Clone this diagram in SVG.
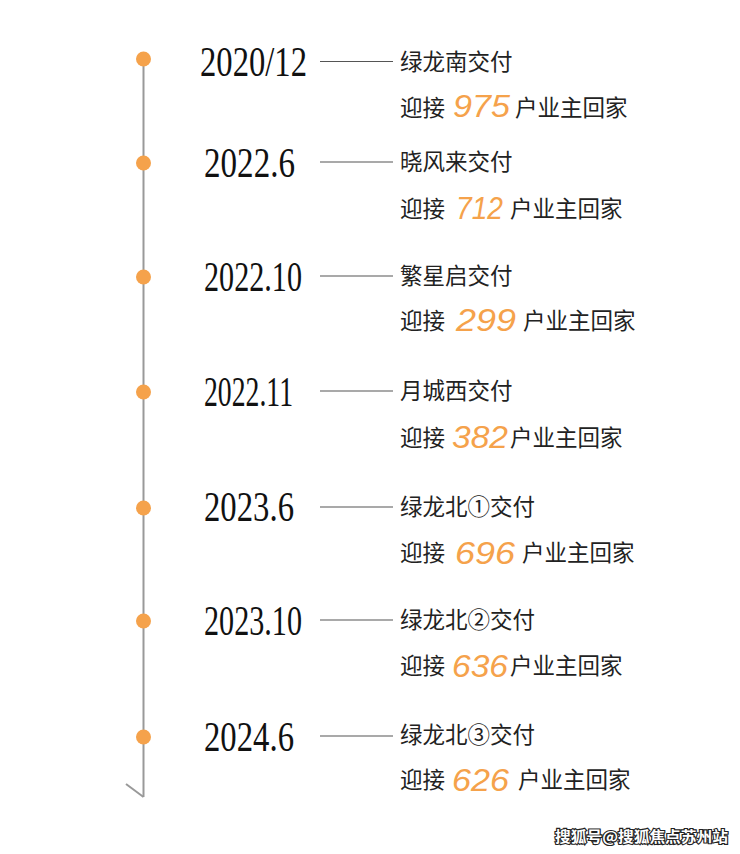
<svg xmlns="http://www.w3.org/2000/svg" width="740" height="854" viewBox="0 0 740 854">
<style>
.axis{stroke:#999;stroke-width:2;fill:none}
.dot{fill:#F5A24B}
.conn{stroke:#555;stroke-width:1.2}
.date{font-family:"Liberation Serif","DejaVu Serif",serif;font-size:43px;fill:#111}
.cn{font-family:"Noto Sans CJK SC","Noto Sans",sans-serif;font-size:22.5px;fill:#222}
.num{font-family:"Liberation Sans",Arial,sans-serif;font-style:italic;font-size:32px;fill:#F5A24B}
.wm{font-family:"Noto Sans CJK SC",sans-serif;font-weight:bold;font-size:14.5px;fill:#fff;stroke:#222;stroke-width:2.2;paint-order:stroke}
</style>
<rect width="740" height="854" fill="#fff"/>
<g id="connectors">
<line class="axis" x1="143.5" y1="59" x2="143.5" y2="797"/>
<line class="axis" x1="126" y1="784" x2="143.5" y2="797"/>
<line class="conn" x1="320" y1="61.5" x2="393" y2="61.5"/>
<line class="conn" x1="320" y1="162" x2="393" y2="162"/>
<line class="conn" x1="320" y1="276" x2="393" y2="276"/>
<line class="conn" x1="320" y1="391" x2="393" y2="391"/>
<line class="conn" x1="320" y1="507" x2="393" y2="507"/>
<line class="conn" x1="320" y1="620" x2="393" y2="620"/>
<line class="conn" x1="320" y1="736" x2="393" y2="736"/>
</g>
<g id="n1">
<circle class="dot" cx="143.5" cy="59" r="7.5"/>
<text class="date" x="200" y="76" textLength="107" lengthAdjust="spacingAndGlyphs">2020/12</text>
<text class="cn" x="400" y="70">绿龙南交付</text>
<text class="cn" x="400" y="116">迎接</text>
<text class="num" x="453" y="117" textLength="57" lengthAdjust="spacingAndGlyphs">975</text>
<text class="cn" x="515" y="116">户业主回家</text>
</g>
<g id="n2">
<circle class="dot" cx="143.5" cy="163" r="7.5"/>
<text class="date" x="204" y="177" textLength="91" lengthAdjust="spacingAndGlyphs">2022.6</text>
<text class="cn" x="400" y="170">晓风来交付</text>
<text class="cn" x="400" y="217">迎接</text>
<text class="num" x="456" y="219" textLength="47" lengthAdjust="spacingAndGlyphs">712</text>
<text class="cn" x="510" y="217">户业主回家</text>
</g>
<g id="n3">
<circle class="dot" cx="143.5" cy="277" r="7.5"/>
<text class="date" x="204" y="291" textLength="98" lengthAdjust="spacingAndGlyphs">2022.10</text>
<text class="cn" x="400" y="284">繁星启交付</text>
<text class="cn" x="400" y="329">迎接</text>
<text class="num" x="456" y="331" textLength="60" lengthAdjust="spacingAndGlyphs">299</text>
<text class="cn" x="523" y="329">户业主回家</text>
</g>
<g id="n4">
<circle class="dot" cx="143.5" cy="392" r="7.5"/>
<text class="date" x="204" y="406" textLength="89" lengthAdjust="spacingAndGlyphs">2022.11</text>
<text class="cn" x="400" y="399">月城西交付</text>
<text class="cn" x="400" y="446">迎接</text>
<text class="num" x="452" y="448" textLength="56" lengthAdjust="spacingAndGlyphs">382</text>
<text class="cn" x="510" y="446">户业主回家</text>
</g>
<g id="n5">
<circle class="dot" cx="143.5" cy="508" r="7.5"/>
<text class="date" x="204" y="521" textLength="90" lengthAdjust="spacingAndGlyphs">2023.6</text>
<text class="cn" x="400" y="515">绿龙北①交付</text>
<text class="cn" x="400" y="561">迎接</text>
<text class="num" x="455" y="564" textLength="60" lengthAdjust="spacingAndGlyphs">696</text>
<text class="cn" x="522" y="561">户业主回家</text>
</g>
<g id="n6">
<circle class="dot" cx="143.5" cy="621" r="7.5"/>
<text class="date" x="204" y="635" textLength="98" lengthAdjust="spacingAndGlyphs">2023.10</text>
<text class="cn" x="400" y="628">绿龙北②交付</text>
<text class="cn" x="400" y="674">迎接</text>
<text class="num" x="452" y="677" textLength="56" lengthAdjust="spacingAndGlyphs">636</text>
<text class="cn" x="510" y="674">户业主回家</text>
</g>
<g id="n7">
<circle class="dot" cx="143.5" cy="737" r="7.5"/>
<text class="date" x="204" y="751" textLength="90" lengthAdjust="spacingAndGlyphs">2024.6</text>
<text class="cn" x="400" y="743">绿龙北③交付</text>
<text class="cn" x="400" y="788">迎接</text>
<text class="num" x="452" y="791" textLength="57" lengthAdjust="spacingAndGlyphs">626</text>
<text class="cn" x="518" y="788">户业主回家</text>
</g>
<g id="watermark">
<text class="wm" x="555" y="842" textLength="173" lengthAdjust="spacingAndGlyphs">搜狐号@搜狐焦点苏州站</text>
</g>
</svg>
